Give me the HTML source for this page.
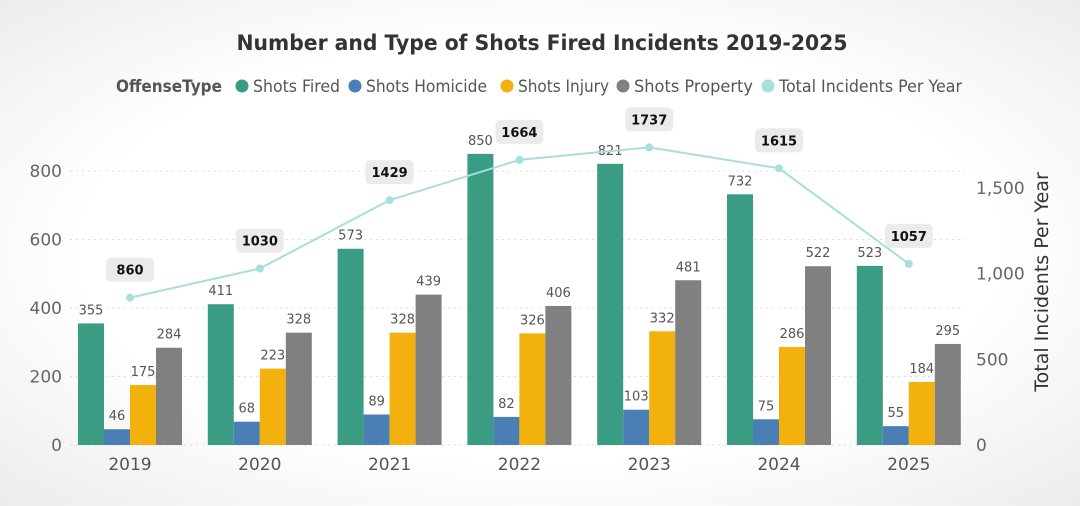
<!DOCTYPE html>
<html><head><meta charset="utf-8"><style>
body{margin:0;width:1080px;height:501px;overflow:hidden;font-family:"Liberation Sans","DejaVu Sans",sans-serif;
background:radial-gradient(ellipse at center,#ffffff 60%,#ececec 100%);}
svg text{font-family:"DejaVu Sans","Liberation Sans",sans-serif;}
</style></head><body>
<svg id="chart" width="1080" height="501" xmlns="http://www.w3.org/2000/svg">
<text x="542" y="50" text-anchor="middle" font-size="21" font-weight="bold" fill="#333" textLength="611" lengthAdjust="spacingAndGlyphs">Number and Type of Shots Fired Incidents 2019-2025</text>
<g id="legend"></g>
<g id="grid"></g><g id="bars"></g><g id="line"></g><g id="axes"></g>
<text transform="translate(1048,282) rotate(-90)" text-anchor="middle" font-size="19" fill="#333">Total Incidents Per Year</text>
</svg>
<script>
const years=["2019","2020","2021","2022","2023","2024","2025"];
const shotsFired=[355,411,573,850,821,732,523];
const shotsHomicide=[46,68,89,82,103,75,55];
const shotsInjury=[175,223,328,326,332,286,184];
const shotsProperty=[284,328,439,406,481,522,295];
const totals=[860,1030,1429,1664,1737,1615,1057];
const leftTicks=[0,200,400,600,800];
const rightTicks=[0,500,1000,1500];
const seriesNames=["Shots Fired","Shots Homicide","Shots Injury","Shots Property"];
const colors=["#3a9c82","#4a7fb5","#f2b10c","#808080"];
const NS="http://www.w3.org/2000/svg";
const y0=445;
function yL(v){return y0-v*274/800;}
function yR(v){return y0-v*257/1500;}
function xC(i){return 130+i*129.8;}
function mk(tag,attrs,parent,txt){const e=document.createElementNS(NS,tag);for(const k in attrs)e.setAttribute(k,attrs[k]);if(txt!==undefined)e.textContent=txt;parent.appendChild(e);return e;}
const grid=document.getElementById('grid'),bars=document.getElementById('bars'),line=document.getElementById('line'),axes=document.getElementById('axes'),legend=document.getElementById('legend');
// legend
let t=mk('text',{x:116,y:92,'font-size':17,'font-weight':'bold',fill:'#555',textLength:106,lengthAdjust:'spacingAndGlyphs'},legend,'OffenseType');


const legItems=seriesNames.concat(["Total Incidents Per Year"]);
const legCols=colors.concat(["#a8dedb"]);
const legX=[242,355,507,623,768];
const legW=[87,121,91,119,183];
legItems.forEach((n,i)=>{
 const g=mk('g',{},legend);
 
 
 mk('circle',{cx:legX[i],cy:86,r:6.5,fill:legCols[i]},g);
 mk('text',{x:legX[i]+11,y:92,'font-size':17,fill:'#555',textLength:legW[i],lengthAdjust:'spacingAndGlyphs'},g,n);
});
// grid & ticks
leftTicks.forEach(v=>{
 const l=mk('line',{x1:70,x2:965,y1:yL(v),y2:yL(v),stroke:'#ddd','stroke-dasharray':'2,4'},grid);
 
 
 const tx=mk('text',{x:62,y:yL(v)+6,'text-anchor':'end','font-size':17,fill:'#666'},axes,String(v));
 
 
});
rightTicks.forEach(v=>{
 const tx=mk('text',{x:976,y:yR(v)+6,'font-size':17,fill:'#666'},axes,v.toLocaleString('en-US'));
 
 
});
// bars
const all=[shotsFired,shotsHomicide,shotsInjury,shotsProperty];
const bw=26;
years.forEach((yr,i)=>{
 all.forEach((s,k)=>{
  const x=xC(i)-52+k*bw;
  const r=mk('rect',{x:x,y:yL(s[i]),width:bw,height:y0-yL(s[i]),fill:colors[k]},bars);
  
  
  const lb=mk('text',{x:x+bw/2,y:yL(s[i])-9,'text-anchor':'middle','font-size':13,fill:'#555'},bars,String(s[i]));
  
  
 });
 const xl=mk('text',{x:xC(i),y:470,'text-anchor':'middle','font-size':17,fill:'#555'},axes,yr);
 
 
});
// line
const pts=totals.map((v,i)=>xC(i)+','+yR(v)).join(' ');
const pl=mk('polyline',{points:pts,fill:'none',stroke:'#a8dedb','stroke-width':2},line);


totals.forEach((v,i)=>{
 const c=mk('circle',{cx:xC(i),cy:yR(v),r:4,fill:'#a8dedb'},line);
 
 
 const bx=mk('rect',{x:xC(i)-24,y:yR(v)-40,width:48,height:24,rx:5,fill:'#ebebeb'},line);
 
 
 const tl=mk('text',{x:xC(i),y:yR(v)-23,'text-anchor':'middle','font-size':13,'font-weight':'bold',fill:'#111'},line,String(v));
 
 
});
</script>
</body></html>
